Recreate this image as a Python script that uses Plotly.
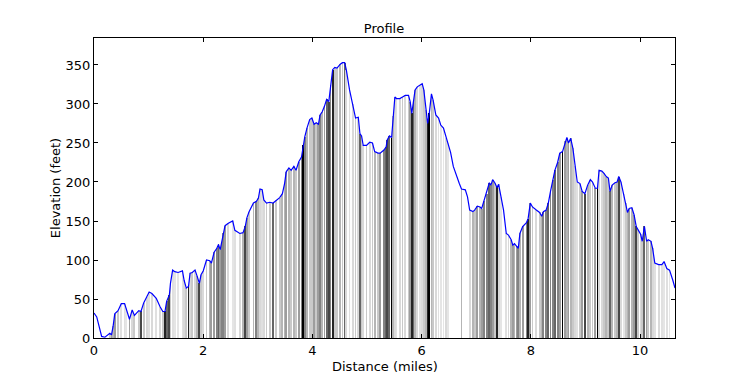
import plotly.graph_objects as go

# Distance along route (miles)
distance = [
    0.00, 0.05, 0.14, 0.20, 0.29, 0.32, 0.35, 0.38, 0.44, 0.50, 0.56, 0.59, 0.65, 0.70, 0.74, 0.82, 0.86, 0.91, 0.97, 1.01,
    1.06, 1.14, 1.21, 1.26, 1.30, 1.33, 1.38, 1.40, 1.44, 1.48, 1.54, 1.62, 1.65, 1.69, 1.73, 1.76, 1.80, 1.85, 1.89, 1.93,
    1.96, 2.00, 2.06, 2.12, 2.15, 2.20, 2.25, 2.28, 2.31, 2.34, 2.37, 2.40, 2.46, 2.54, 2.58, 2.67, 2.73, 2.77, 2.80, 2.84,
    2.92, 2.97, 3.01, 3.04, 3.08, 3.11, 3.16, 3.22, 3.28, 3.34, 3.40, 3.45, 3.49, 3.52, 3.57, 3.61, 3.66, 3.70, 3.75, 3.80,
    3.83, 3.86, 3.90, 3.95, 3.99, 4.03, 4.07, 4.11, 4.14, 4.18, 4.22, 4.26, 4.30, 4.33, 4.37, 4.41, 4.45, 4.51, 4.55, 4.59,
    4.62, 4.68, 4.74, 4.79, 4.84, 4.87, 4.90, 4.93, 4.99, 5.05, 5.10, 5.14, 5.20, 5.24, 5.31, 5.35, 5.37, 5.41, 5.45, 5.48,
    5.51, 5.54, 5.60, 5.65, 5.70, 5.76, 5.79, 5.82, 5.85, 5.88, 5.92, 5.97, 6.01, 6.04, 6.08, 6.11, 6.14, 6.18, 6.21, 6.26,
    6.31, 6.35, 6.40, 6.45, 6.49, 6.53, 6.58, 6.64, 6.69, 6.73, 6.80, 6.84, 6.88, 6.94, 6.97, 7.02, 7.07, 7.10, 7.14, 7.19,
    7.24, 7.27, 7.30, 7.34, 7.38, 7.41, 7.45, 7.50, 7.55, 7.59, 7.64, 7.67, 7.70, 7.74, 7.77, 7.80, 7.85, 7.92, 7.95, 7.99,
    8.03, 8.10, 8.16, 8.20, 8.23, 8.28, 8.32, 8.36, 8.40, 8.44, 8.49, 8.53, 8.58, 8.63, 8.66, 8.69, 8.73, 8.77, 8.81, 8.85,
    8.90, 8.94, 8.99, 9.04, 9.09, 9.13, 9.18, 9.22, 9.25, 9.30, 9.34, 9.38, 9.42, 9.45, 9.49, 9.54, 9.58, 9.61, 9.65, 9.70,
    9.74, 9.77, 9.80, 9.85, 9.89, 9.93, 9.97, 10.01, 10.04, 10.08, 10.12, 10.15, 10.20, 10.23, 10.27, 10.34, 10.40, 10.44, 10.49, 10.54,
    10.60, 10.64,
]

# Elevation (feet)
elevation = [
    32, 27, 2, 1, 6, 4, 15, 31, 35, 44, 44, 38, 24, 36, 29, 35, 34, 45, 53, 59,
    57, 51, 40, 34, 34, 47, 55, 70, 87, 85, 84, 86, 74, 64, 66, 83, 84, 87, 79, 70,
    81, 86, 100, 99, 96, 110, 115, 120, 113, 122, 134, 144, 147, 150, 138, 134, 135, 143, 154, 162,
    173, 175, 179, 191, 190, 177, 173, 174, 173, 177, 180, 185, 198, 213, 218, 215, 220, 215, 226, 232,
    247, 258, 269, 280, 282, 274, 276, 274, 286, 290, 297, 306, 303, 324, 344, 347, 346, 351, 353, 353,
    344, 318, 300, 282, 283, 262, 259, 247, 247, 251, 250, 239, 237, 237, 241, 245, 254, 259, 257, 284,
    309, 307, 307, 309, 311, 311, 303, 288, 305, 318, 322, 324, 326, 318, 292, 275, 288, 313, 305, 286,
    282, 273, 269, 257, 250, 238, 220, 207, 198, 191, 190, 181, 164, 162, 164, 169, 168, 166, 175, 185,
    199, 196, 203, 199, 193, 197, 181, 164, 134, 132, 126, 119, 121, 118, 115, 134, 143, 148, 153, 173,
    168, 164, 161, 156, 162, 164, 173, 188, 203, 215, 225, 237, 239, 252, 257, 250, 256, 243, 220, 200,
    198, 188, 185, 196, 203, 200, 192, 192, 215, 214, 211, 207, 205, 188, 196, 199, 200, 207, 200, 185,
    173, 161, 166, 167, 158, 143, 138, 133, 124, 143, 124, 126, 124, 115, 96, 94, 94, 98, 89, 87,
    74, 64,
]

# Darkness of the vertical shading line at each point (0 = no line, 1 = black)
shade = [
    0, 0, 0, 0, 0.3, 0.5, 0.4, 0.5, 0.3, 0.15, 0.15, 0.1, 0.5, 0.2, 0.3, 0.3, 0.8, 0.3, 0.2, 0.15,
    0.2, 0.15, 0.2, 0.3, 0.9, 0.7, 0.8, 0.3, 0.15, 0.1, 0.1, 0.15, 0.2, 0.3, 0.9, 0.2, 0.3, 0.2, 0.4, 0.8,
    0.3, 0.2, 0.3, 0.4, 0.5, 0.5, 0.6, 0.7, 0.5, 0.6, 0.6, 0.5, 0.2, 0.1, 0.15, 0.2, 0.4, 0.8, 0.5, 0.3,
    0.4, 0.6, 0.4, 0.2, 0.15, 0.2, 0.3, 0.3, 0.7, 0.3, 0.3, 0.4, 0.4, 0.5, 0.4, 0.3, 0.4, 0.3, 0.5, 0.6,
    1.0, 0.6, 0.4, 0.3, 0.3, 0.5, 0.3, 0.5, 0.6, 0.4, 0.5, 0.7, 0.8, 0.6, 0.9, 0.3, 0.3, 0.4, 0.3, 0.7,
    0.2, 0.15, 0.2, 0.3, 0.2, 0.7, 0.3, 0.2, 0.3, 0.2, 0.3, 0.4, 0.3, 0.5, 0.6, 0.7, 0.8, 0.7, 1.0, 0.4,
    0.2, 0.15, 0.2, 0.3, 0.2, 0.3, 0.5, 0.9, 0.7, 0.4, 0.2, 0.15, 0.2, 0.3, 0.4, 0.9, 1.0, 0.4, 0.3, 0.2,
    0.15, 0.1, 0.1, 0.2, 0.1, 0, 0, 0, 0, 0.4, 0, 0, 0.2, 0.4, 0.3, 0.5, 0.4, 0.5, 0.6, 0.6,
    0.7, 0.6, 0.5, 0.3, 0.9, 0.2, 0.1, 0, 0.15, 0.2, 0.4, 0.5, 0.4, 0.5, 0.6, 0.4, 0.5, 0.6, 0.9, 0.5,
    0.3, 0.2, 0.3, 0.4, 0.6, 0.6, 0.7, 0.6, 0.6, 0.7, 0.6, 0.5, 1.0, 0.5, 0.4, 0.5, 0.4, 0.3, 0.2, 0.15,
    0.3, 0.5, 0.8, 0.4, 0.3, 0.3, 0.5, 1.0, 0.2, 0.2, 0.3, 0.4, 0.3, 0.7, 0.4, 0.3, 0.4, 0.8, 0.2, 0.1,
    0.3, 0.4, 0.5, 0.4, 0.5, 0.8, 0.3, 0.2, 0.3, 0.7, 0.5, 0.3, 0.4, 0.2, 0.15, 0.2, 0.15, 0.1, 0.15, 0.1,
    0, 0,
]

x_ticks = [0, 2, 4, 6, 8, 10]
y_ticks = [0, 50, 100, 150, 200, 250, 300, 350]

bx, by, bc = [], [], []
for d, e, s in zip(distance, elevation, shade):
    if s > 0:
        g = int(round(235 - 235 * s ** 1.6))
        bx.append(d)
        by.append(e)
        bc.append(f"rgb({g},{g},{g})")

fig = go.Figure()
fig.add_trace(go.Bar(
    x=bx, y=by, width=0.016,
    marker=dict(color=bc, line=dict(width=0)),
    hoverinfo="skip", showlegend=False,
))
fig.add_trace(go.Scatter(
    x=distance, y=elevation, mode="lines",
    line=dict(color="#0000ff", width=1.2),
    showlegend=False,
))

# The page body has an 8px default margin, so the figure is sized to fit the window.
W, H = 742, 367
font = dict(family="DejaVu Sans", size=13, color="black")
axis_common = dict(
    showgrid=False, zeroline=False, showline=True, linecolor="black", linewidth=1,
    mirror="ticks", ticks="inside", ticklen=4, tickwidth=1, tickcolor="black",
    tickfont=font, automargin=False,
)
fig.update_layout(
    width=W, height=H,
    paper_bgcolor="white", plot_bgcolor="white",
    margin=dict(l=86, r=75, t=30, b=37, autoexpand=False),
    title=dict(text="Profile", x=376 / W, xanchor="center", y=1 - 20 / H, yanchor="middle",
               font=dict(family="DejaVu Sans", size=13, color="black"), automargin=False),
    font=font,
    bargap=0,
)
fig.add_annotation(text="Distance (miles)", xref="paper", yref="paper", x=0.5, y=-19 / 300,
                   xanchor="center", yanchor="top", showarrow=False, font=font)
fig.update_xaxes(range=[0, 10.64], tickvals=x_ticks, ticktext=[str(v) for v in x_ticks],
                 **axis_common)
fig.update_yaxes(range=[0, 384.6], tickvals=y_ticks, ticktext=[str(v) for v in y_ticks],
                 title=dict(text="Elevation (feet)", font=font, standoff=2), **axis_common)

fig.write_html("out.html")
